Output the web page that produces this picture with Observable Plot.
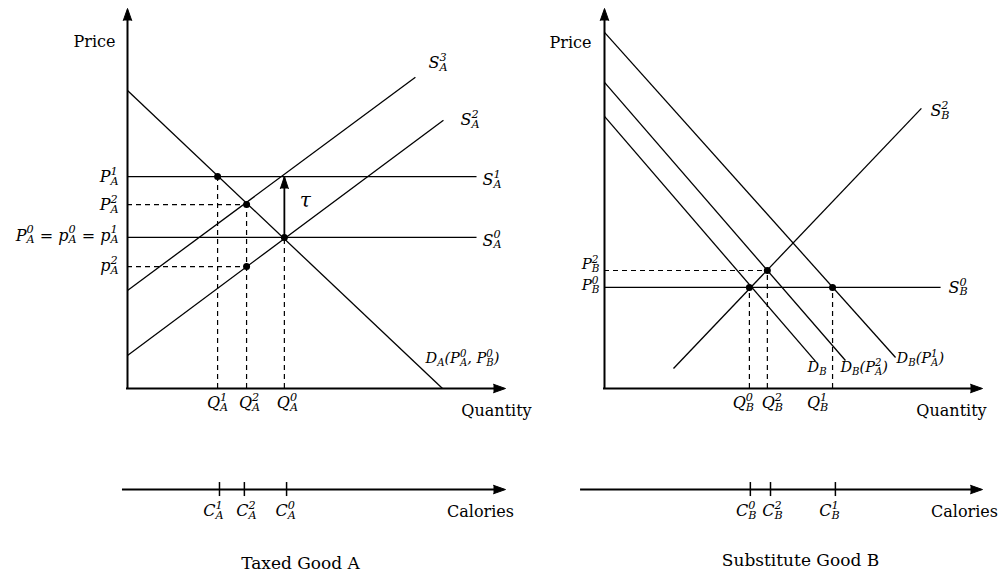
<!DOCTYPE html>
<html><head><meta charset="utf-8">
<script src="https://cdn.jsdelivr.net/npm/d3@7"></script>
<script src="https://cdn.jsdelivr.net/npm/@observablehq/plot@0.6"></script>
<style>
body{margin:0;background:#fff;}
#wrap{display:flex;width:1004px;height:576px;overflow:hidden;}
#wrap svg{flex:none;overflow:visible;max-width:none;}
</style></head><body><div id="wrap"></div>
<script>
// ===== Panel A : taxed good A (quantity q, price p in diagram units) =====
const segmentsA = [
  {name: "S3", q1: 0, p1: 32.9, q2: 91.4,  p2: 104.4},
  {name: "S2", q1: 0, p1: 11.1, q2: 100.3, p2: 90.0},
  {name: "S1", q1: 0, p1: 71.1, q2: 110.8, p2: 71.1},
  {name: "S0", q1: 0, p1: 50.7, q2: 110.8, p2: 50.7},
  {name: "D",  q1: 0, p1: 100,  q2: 100,   p2: 0}
];
const segLabelsA = ["S_A^3", "S_A^2", "S_A^1", "S_A^0", "D_A(P_A^0, P_B^0)"];
const pointsA = [{q: 28.6, p: 71.1}, {q: 37.8, p: 61.7}, {q: 49.8, p: 50.7}, {q: 37.8, p: 40.9}];
const dashVA = [pointsA[0], pointsA[1], pointsA[2]];
const dashHA = [pointsA[1], pointsA[3]];
const priceLabelsA = [
  {p: 71.1, label: "P_A^1"}, {p: 61.7, label: "P_A^2"},
  {p: 50.7, label: "P_A^0 = p_A^0 = p_A^1"}, {p: 40.9, label: "p_A^2"}
];
const qtyTicksA = [28.6, 37.8, 49.8];
const qtyLabelsA = ["Q_A^1", "Q_A^2", "Q_A^0"];
const calTicksA = [29.2, 37.1, 50.5];
const calLabelsA = ["C_A^1", "C_A^2", "C_A^0"];
const taxA = [{q: 49.8, from: 50.7, to: 71.1, label: "τ"}];

// ===== Panel B : substitute good B =====
const segmentsB = [
  {name: "D0", q1: 0,    p1: 91.3,  q2: 67.0,  p2: 9.1},
  {name: "D2", q1: 0,    p1: 102.7, q2: 76.5,  p2: 9.4},
  {name: "D1", q1: 0,    p1: 119.5, q2: 92.4,  p2: 10.4},
  {name: "S0", q1: 0,    p1: 33.9,  q2: 106.7, p2: 33.9},
  {name: "S2", q1: 21.9, p1: 6.7,   q2: 100.6, p2: 94.0}
];
const segLabelsB = ["D_B", "D_B(P_A^2)", "D_B(P_A^1)", "S_B^0", "S_B^2"];
const pointsB = [{q: 46.0, p: 33.9}, {q: 51.7, p: 39.6}, {q: 72.4, p: 33.9}];
const dashVB = [pointsB[0], pointsB[1], pointsB[2]];
const dashHB = [pointsB[1]];
const priceLabelsB = [{p: 39.6, label: "P_B^2"}, {p: 33.9, label: "P_B^0"}];
const qtyTicksB = [46.0, 51.7, 72.4];
const qtyLabelsB = ["Q_B^0", "Q_B^2", "Q_B^1"];
const calTicksB = [46.3, 52.7, 73.3];
const calLabelsB = ["C_B^0", "C_B^2", "C_B^1"];

const axisTexts = {price: "Price", quantity: "Quantity", calories: "Calories"};
const titles = ["Taxed Good A", "Substitute Good B"];

// ===== layout (pixels / styling only) =====
const FONT = "DejaVu Serif";
const layoutA = {
  width: 540, marginLeft: 127, marginRight: 35,
  qMax: 120, pMax: 127.5, calP: -33.9, calStart: -1.6,
  segDx: [13, 17, 6, 6, -17], segDy: [-14, 0, 3, 3, -30], segSize: [16, 16, 16, 16, 14.5],
  priceDx: -9, priceDy: [0, 0, -2, -1], priceSize: 16,
  qtyDx: [0, 3, 3], calDx: [-6, 2, -1],
  priceText: [-33, 33], quantityText: [-9, 22], caloriesText: [-25, 22], titleOff: [-16, 180]
};
const layoutB = {
  width: 464, marginLeft: 64, marginRight: 22,
  qMax: 120, pMax: 127.5, calP: -33.9, calStart: -7.6,
  segDx: [-8, -5, 1, 8, 9], segDy: [6, 7, 1, 0, 3], segSize: [14.5, 14.5, 14.5, 16, 16],
  priceDx: -5, priceDy: [-6, -2], priceSize: 15,
  qtyDx: [-6, 5, -15], calDx: [-4, 2, -6],
  priceText: [-34, 34], quantityText: [-31, 22], caloriesText: [-18, 22], titleOff: [7, 177]
};

function panel(d, L) {
  const tickHalf = 7 / 2.98;
  const head = (x, y, rotate) => Plot.vector([{x, y}], {x: "x", y: "y", shape: "spike", anchor: "end",
    length: 12, r: 4.2, rotate, fill: "black", stroke: "black", strokeWidth: 1});
  const math = {fontFamily: FONT, fontStyle: "italic", fill: "black"};
  const word = {fontFamily: FONT, fill: "black", fontSize: 16};
  const marks = [
    Plot.link(d.segments, {x1: "q1", y1: "p1", x2: "q2", y2: "p2", stroke: "black", strokeWidth: 1.3}),
    Plot.ruleX(d.dashV, {x: "q", y1: 0, y2: "p", stroke: "black", strokeDasharray: "5,4", strokeWidth: 1.2}),
    Plot.ruleY(d.dashH, {y: "p", x1: 0, x2: "q", stroke: "black", strokeDasharray: "5,4", strokeWidth: 1.2}),
    // price / quantity axes
    Plot.ruleX([0], {y1: 0, y2: L.pMax - 3, stroke: "black", strokeWidth: 2, strokeLinecap: "square"}),
    Plot.ruleY([0], {x1: 0, x2: L.qMax - 3, stroke: "black", strokeWidth: 2, strokeLinecap: "square"}),
    head(0, L.pMax, 0),
    head(L.qMax, 0, 90),
    // calories axis
    Plot.ruleY([L.calP], {x1: L.calStart, x2: L.qMax - 3, stroke: "black", strokeWidth: 2}),
    head(L.qMax, L.calP, 90),
    Plot.ruleX(d.calTicks, {x: v => v, y1: L.calP - tickHalf, y2: L.calP + tickHalf, stroke: "black", strokeWidth: 1.5}),
    Plot.dot(d.points, {x: "q", y: "p", r: 3.5, fill: "black"}),
  ];
  if (d.tax) {
    marks.push(
      Plot.ruleX(d.tax, {x: "q", y1: "from", y2: "to", stroke: "black", strokeWidth: 1.8}),
      Plot.vector(d.tax, {x: "q", y: "to", shape: "spike", anchor: "end", length: 12, r: 4, fill: "black", stroke: "black", strokeWidth: 1}),
      Plot.text(d.tax, {x: "q", y: t => (t.from + t.to) / 2, text: "label", dx: 21, dy: -6, ...math, fontSize: 20})
    );
  }
  d.segLabels.forEach((lab, i) => marks.push(
    Plot.text([d.segments[i]], {x: "q2", y: "p2", text: () => lab, textAnchor: "start",
      dx: L.segDx[i], dy: L.segDy[i], ...math, fontSize: L.segSize[i]})));
  d.priceLabels.forEach((pl, i) => marks.push(
    Plot.text([pl], {x: 0, y: "p", text: "label", textAnchor: "end", dx: L.priceDx, dy: L.priceDy[i], ...math, fontSize: L.priceSize})));
  d.qtyTicks.forEach((q, i) => marks.push(
    Plot.text([q], {x: v => v, y: 0, text: () => d.qtyLabels[i], dx: L.qtyDx[i], dy: 14, ...math, fontSize: 16})));
  d.calTicks.forEach((q, i) => marks.push(
    Plot.text([q], {x: v => v, y: L.calP, text: () => d.calLabels[i], dx: L.calDx[i], dy: 21, ...math, fontSize: 16})));
  marks.push(
    Plot.text([axisTexts.price], {x: 0, y: L.pMax, dx: L.priceText[0], dy: L.priceText[1], ...word}),
    Plot.text([axisTexts.quantity], {x: L.qMax, y: 0, dx: L.quantityText[0], dy: L.quantityText[1], ...word}),
    Plot.text([axisTexts.calories], {x: L.qMax, y: L.calP, dx: L.caloriesText[0], dy: L.caloriesText[1], ...word}),
    Plot.text([d.title], {frameAnchor: "bottom", dx: L.titleOff[0], dy: L.titleOff[1], ...word, fontSize: 17})
  );
  return Plot.plot({
    width: L.width, height: 576,
    marginLeft: L.marginLeft, marginRight: L.marginRight, marginTop: 8, marginBottom: 188,
    x: {domain: [0, L.qMax], axis: null},
    y: {domain: [0, L.pMax], axis: null},
    style: {background: "white", overflow: "visible"},
    marks
  });
}

function parseMath(s) {
  const toks = []; let i = 0, base = "";
  const readArg = () => {
    if (s[i] === "{") { const j = s.indexOf("}", i); const a = s.slice(i + 1, j); i = j + 1; return a; }
    return s[i++];
  };
  while (i < s.length) {
    const ch = s[i];
    if (ch === "_" || ch === "^") {
      if (base) { toks.push({base}); base = ""; }
      const sc = {};
      while (s[i] === "_" || s[i] === "^") { const k = s[i++]; sc[k === "_" ? "sub" : "sup"] = readArg(); }
      toks.push(sc);
    } else { base += ch; i++; }
  }
  if (base) toks.push({base});
  return toks;
}

function richify(root) {
  const NS = "http://www.w3.org/2000/svg";
  root.querySelectorAll("text").forEach(t => {
    const s = t.textContent;
    if (!/[_^]/.test(s)) return;
    const fs = parseFloat(getComputedStyle(t).fontSize) || 16;
    while (t.firstChild) t.removeChild(t.firstChild);
    t.style.whiteSpace = "pre";
    const add = (str, size) => {
      const e = document.createElementNS(NS, "tspan");
      e.textContent = str; if (size) e.setAttribute("font-size", size);
      t.appendChild(e); return e;
    };
    let shift = 0, pend = 0;
    for (const tok of parseMath(s)) {
      if (tok.base != null) {
        const e = add(tok.base);
        if (shift) e.setAttribute("dy", -shift); shift = 0;
        if (pend) e.setAttribute("dx", pend); pend = 0;
        continue;
      }
      const ss = fs * 0.7;
      let w1 = 0;
      if (tok.sup != null) {
        const e = add(tok.sup, ss);
        const target = -fs * 0.44;
        e.setAttribute("dy", target - shift); shift = target;
        if (pend) e.setAttribute("dx", pend); pend = 0;
        w1 = e.getComputedTextLength();
      }
      if (tok.sub != null) {
        const e = add(tok.sub, ss);
        const target = fs * 0.18;
        e.setAttribute("dy", target - shift); shift = target;
        const dx = pend - w1; pend = 0;
        if (dx) e.setAttribute("dx", dx);
        const w2 = e.getComputedTextLength();
        if (w1 > w2) pend = w1 - w2;
      }
    }
  });
}

const wrap = document.getElementById("wrap");
wrap.appendChild(panel({
  segments: segmentsA, segLabels: segLabelsA, points: pointsA, dashV: dashVA, dashH: dashHA,
  priceLabels: priceLabelsA, qtyTicks: qtyTicksA, qtyLabels: qtyLabelsA,
  calTicks: calTicksA, calLabels: calLabelsA, tax: taxA, title: titles[0]
}, layoutA));
wrap.appendChild(panel({
  segments: segmentsB, segLabels: segLabelsB, points: pointsB, dashV: dashVB, dashH: dashHB,
  priceLabels: priceLabelsB, qtyTicks: qtyTicksB, qtyLabels: qtyLabelsB,
  calTicks: calTicksB, calLabels: calLabelsB, tax: null, title: titles[1]
}, layoutB));
richify(wrap);
</script></body></html>
